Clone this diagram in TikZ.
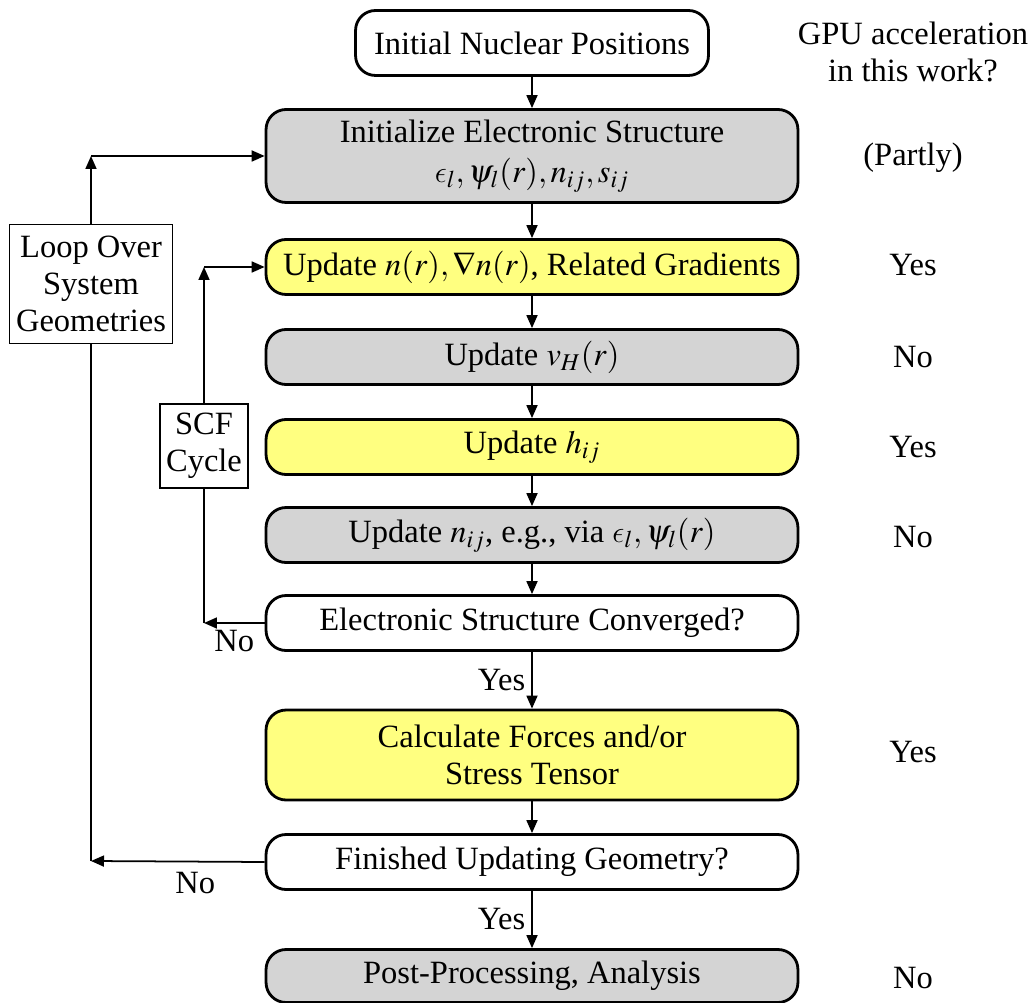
\documentclass[tikz,border=0pt]{standalone}
\usepackage{mathptmx}
\usepackage{fontspec}
\setmainfont{Liberation Serif}
\usetikzlibrary{arrows.meta}

\DeclareSymbolFont{cmletters}{OML}{cmm}{m}{it}
\DeclareMathSymbol{\lunateps}{\mathord}{cmletters}{"0F}

\definecolor{boxgray}{RGB}{212,212,212}
\definecolor{boxyellow}{RGB}{255,255,128}

\tikzset{
    stage/.style={draw, line width=1.6pt, rounded corners=0.4cm, minimum width=10.64cm,
        minimum height=1.1cm, align=center, inner sep=2pt},
    loopbox/.style={draw, line width=1pt, align=center, inner sep=2pt},
    flow/.style={-{Triangle[length=0.26cm, width=0.22cm]}},
}

\begin{document}
\begin{tikzpicture}[x=0.02cm, y=-0.02cm, line width=1pt, font=\fontsize{18.5}{21}\selectfont]
    \useasboundingbox (0,0) rectangle (1031,1003);

    \node[stage, minimum width=7.06cm, minimum height=1.3cm] (init) at (532,43) {Initial Nuclear Positions};
    \node[stage, fill=boxgray, minimum height=1.86cm] (elec) at (532,156) {Initialize Electronic Structure\\[2pt] $\lunateps_l, \psi_l(r), n_{ij}, s_{ij}$};
    \node[stage, fill=boxyellow] (dens) at (532,267) {Update $n(r), \nabla n(r)$, Related Gradients};
    \node[stage, fill=boxgray] (hart) at (532,357) {Update $v_H(r)$};
    \node[stage, fill=boxyellow] (ham) at (532,447) {Update $h_{ij}$};
    \node[stage, fill=boxgray] (occ) at (532,535) {Update $n_{ij}$, e.g., via $\lunateps_l, \psi_l(r)$};
    \node[stage] (conv) at (532,623) {Electronic Structure Converged?};
    \node[stage, fill=boxyellow, minimum height=1.8cm] (force) at (532,755) {Calculate Forces and/or\\ Stress Tensor};
    \node[stage] (geom) at (532,862) {Finished Updating Geometry?};
    \node[stage, fill=boxgray, minimum height=1.06cm] (post) at (532,976) {Post-Processing, Analysis};

    % GPU column
    \node[align=center] (gpu) at (913,52) {GPU acceleration\\ in this work?};
    \node (gelec) at (913,158) {(Partly)};
    \node (gdens) at (913,265) {Yes};
    \node (ghart) at (913,357) {No};
    \node (gham) at (913,447) {Yes};
    \node (gocc) at (913,537) {No};
    \node (gforce) at (913,752) {Yes};
    \node (gpost) at (913,978) {No};

    % loops
    \node[loopbox, minimum width=3.26cm, minimum height=2.38cm] (geoloop) at (91,284) {Loop Over\\ System\\ Geometries};
    \node[loopbox, minimum width=1.76cm, minimum height=1.68cm] (scf) at (204,446) {SCF\\ Cycle};
    \coordinate (geotop) at (91,156);
    \coordinate (geobot) at (91,861);
    \coordinate (scftop) at (204,267);
    \coordinate (scfbot) at (204,623);

    \begin{scope}[every path/.style={flow}]
       \draw (init) -- (elec);
       \draw (elec) -- (dens);
       \draw (dens) -- (hart);
       \draw (hart) -- (ham);
       \draw (ham) -- (occ);
       \draw (occ) -- (conv);
       \draw (conv) -- node [left] {Yes} (force);
       \draw (force) -- (geom);
       \draw (geom) -- node [left] {Yes} (post);

       \draw (conv.west) -- node [below] {No} (scfbot);
       \draw (scf.north) -- (scftop);
       \draw (scftop) -- (dens.west);

       \draw (geom.west) -- node [below=2pt, pos=0.4] {No} (geobot);
       \draw (geoloop.north) -- (geotop);
       \draw (geotop) -- (elec.west);
    \end{scope}
    \draw (scfbot) -- (scf.south);
    \draw (geobot) -- (geoloop.south);
\end{tikzpicture}
\end{document}
